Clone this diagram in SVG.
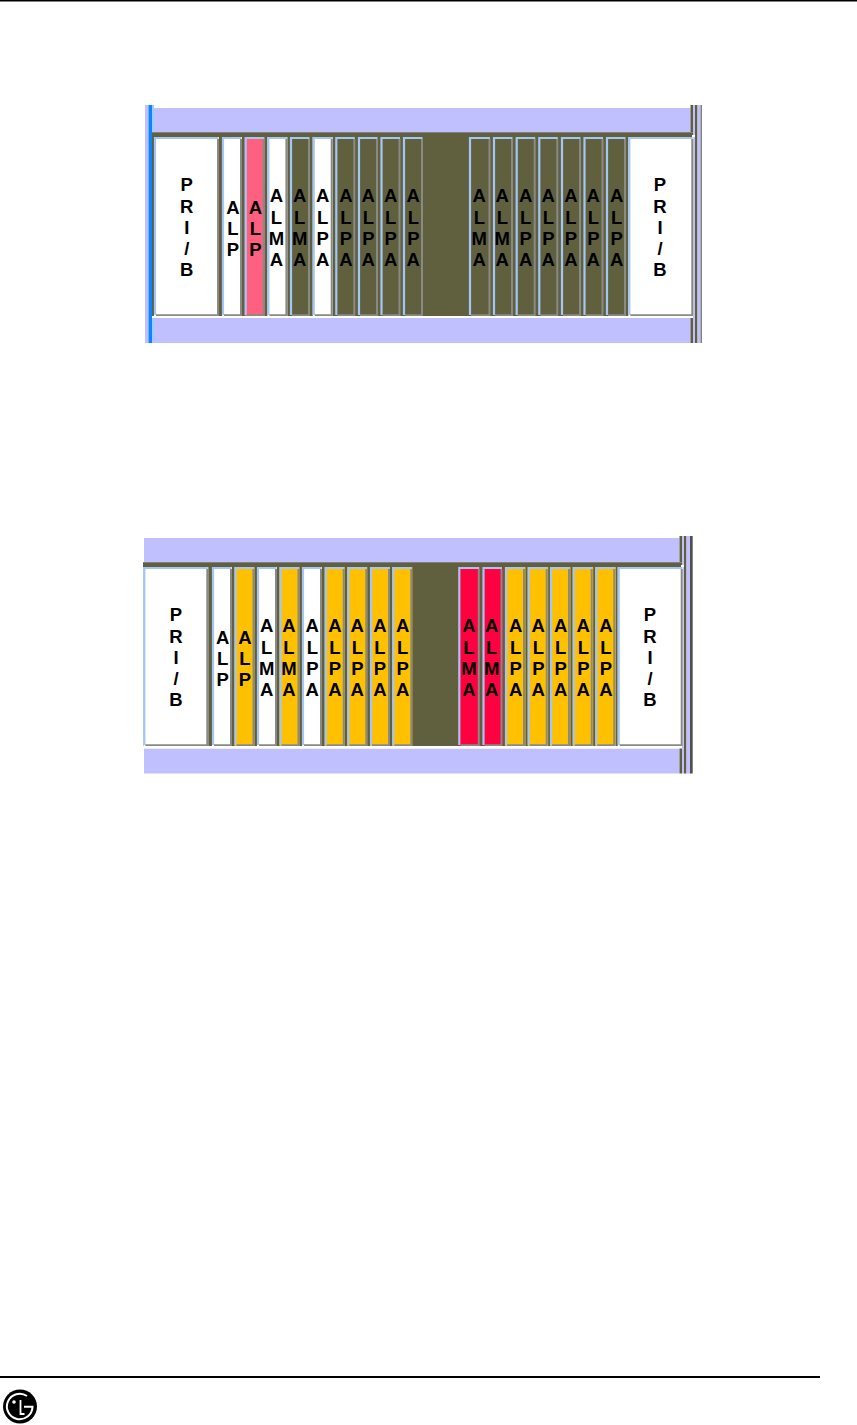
<svg xmlns="http://www.w3.org/2000/svg" width="857" height="1425" viewBox="0 0 857 1425">
<style>
.lav{fill:#c0c0ff}
.olive{fill:#60603f}
.w{fill:#fff}.o{fill:#60603f}.p{fill:#ff6080}.r{fill:#ff0040}.y{fill:#ffc000}
.hl{fill:none;stroke:#a4c6f6;stroke-width:2.200}
.sh{fill:none;stroke:#8a8a84;stroke-width:2}
.rg{fill:#808080}
text{font-family:"Liberation Sans",Arial,sans-serif;font-weight:bold;font-size:18.500px;fill:#000;text-anchor:middle}
</style>
<defs>
<g id="alp"><text y="213.500">A</text><text y="235">L</text><text y="256">P</text></g>
<g id="alma"><text y="202">A</text><text y="224">L</text><text y="245">M</text><text y="266">A</text></g>
<g id="alpa"><text y="202">A</text><text y="224">L</text><text y="245">P</text><text y="266">A</text></g>
<g id="pri"><text y="191">P</text><text y="212.500">R</text><text y="233.500">I</text><text y="254.500">/</text><text y="275.500">B</text></g>
<g id="m"><path class="hl" d="M1 178V1H19.500"/><path class="sh" d="M19 2V178.200H2"/></g>
<g id="mw"><path class="hl" d="M1 178V1H21"/><path class="sh" d="M20.500 2V178.200H2"/></g>
<g id="mp"><path class="hl" d="M1 178V1H64.500"/><path class="sh" d="M64 2V178.200H2"/></g>
</defs>
<g id="page-rules">
<rect x="0" y="0" width="857" height="1.500" fill="#000"/>
<rect x="0" y="1376" width="820" height="2" fill="#000"/>
</g>
<g id="rack-1">
<g id="rack-1-frame">
<rect x="145" y="105" width="3.500" height="238" fill="#c0c0ff"/>
<rect x="148.500" y="105" width="3.500" height="238" fill="#0a84ff"/>
<rect x="152" y="105" width="2" height="238" fill="#a8c8f8"/>
<rect class="lav" x="154" y="108" width="536.500" height="24"/>
<rect class="olive" x="152" y="132" width="541" height="184"/>
<rect class="rg" x="152" y="132" width="541" height="1"/>
<rect class="lav" x="154" y="318" width="536.500" height="25"/>
<rect class="olive" x="690.500" y="105" width="2.500" height="27"/>
<rect class="olive" x="690.500" y="318" width="2.500" height="25"/>
<rect class="lav" x="693" y="105" width="2" height="238"/>
<rect class="olive" x="695" y="105" width="2.500" height="238"/>
<rect class="lav" x="697.500" y="105" width="3" height="238"/>
<rect class="rg" x="700.500" y="105" width="1.500" height="238"/>
</g>
<g id="r1-pri-l"><rect class="w" x="154" y="137" width="65" height="179"/><use href="#mp" x="154" y="137"/><use href="#pri" x="186.700"/></g>
<g id="r1-alp-1"><rect class="w" x="222" y="137" width="20" height="179"/><use href="#m" x="222" y="137"/><use href="#alp" x="233"/></g>
<g id="r1-alp-2"><rect class="p" x="244.700" y="137" width="20" height="179"/><use href="#m" x="244.700" y="137"/><use href="#alp" x="255.500"/></g>
<g id="r1-alma-1"><rect class="w" x="267.400" y="137" width="20" height="179"/><use href="#m" x="267.400" y="137"/><use href="#alma" x="276.500"/></g>
<g id="r1-alma-2"><rect class="o" x="290" y="137" width="20" height="179"/><use href="#m" x="290" y="137"/><use href="#alma" x="299.700"/></g>
<g id="r1-alpa-1"><rect class="w" x="312.700" y="137" width="20" height="179"/><use href="#m" x="312.700" y="137"/><use href="#alpa" x="322.700"/></g>
<g id="r1-alpa-2"><rect class="o" x="335.300" y="137" width="20" height="179"/><use href="#m" x="335.300" y="137"/><use href="#alpa" x="346"/></g>
<g id="r1-alpa-3"><rect class="o" x="358" y="137" width="20" height="179"/><use href="#m" x="358" y="137"/><use href="#alpa" x="368.300"/></g>
<g id="r1-alpa-4"><rect class="o" x="380.500" y="137" width="20" height="179"/><use href="#m" x="380.500" y="137"/><use href="#alpa" x="390.700"/></g>
<g id="r1-alpa-5"><rect class="o" x="403" y="137" width="20" height="179"/><use href="#m" x="403" y="137"/><use href="#alpa" x="413.300"/></g>
<g id="r1-alma-3"><rect class="o" x="469" y="137" width="21.500" height="179"/><use href="#mw" x="469" y="137"/><use href="#alma" x="479.300"/></g>
<g id="r1-alma-4"><rect class="o" x="493" y="137" width="20.500" height="179"/><use href="#m" x="493" y="137"/><use href="#alma" x="502.300"/></g>
<g id="r1-alpa-6"><rect class="o" x="515.700" y="137" width="20.500" height="179"/><use href="#m" x="515.700" y="137"/><use href="#alpa" x="525.700"/></g>
<g id="r1-alpa-7"><rect class="o" x="538.300" y="137" width="20.500" height="179"/><use href="#m" x="538.300" y="137"/><use href="#alpa" x="548.300"/></g>
<g id="r1-alpa-8"><rect class="o" x="561" y="137" width="20.500" height="179"/><use href="#m" x="561" y="137"/><use href="#alpa" x="571"/></g>
<g id="r1-alpa-9"><rect class="o" x="583.500" y="137" width="20.500" height="179"/><use href="#m" x="583.500" y="137"/><use href="#alpa" x="593.300"/></g>
<g id="r1-alpa-10"><rect class="o" x="606" y="137" width="20.500" height="179"/><use href="#m" x="606" y="137"/><use href="#alpa" x="616.700"/></g>
<g id="r1-pri-r"><rect class="w" x="628.300" y="137" width="65" height="179"/><use href="#mp" x="628.300" y="137"/><use href="#pri" x="660"/></g>
<rect class="w" x="152" y="316" width="541" height="2"/>
<rect class="w" x="692" y="135" width="3" height="2"/>
</g>
<g id="rack-2" transform="translate(0 430)">
<g id="rack-2-frame">
<rect class="lav" x="144" y="108" width="535.500" height="24"/>
<rect class="olive" x="143" y="132" width="539" height="184"/>
<rect class="rg" x="143" y="132" width="539" height="1"/>
<rect class="lav" x="144" y="318.500" width="535.500" height="25"/>
<rect class="olive" x="679.500" y="106" width="2.500" height="26"/>
<rect class="olive" x="679.500" y="318" width="2.500" height="25.500"/>
<rect class="lav" x="682" y="106" width="2" height="237.500"/>
<rect class="olive" x="684" y="106" width="2.500" height="237.500"/>
<rect class="lav" x="686.500" y="106" width="3.500" height="237.500"/>
<rect x="690" y="106" width="2.700" height="237.500" fill="#505050"/>
</g>
<g id="r2-pri-l"><rect class="w" x="143.300" y="137" width="65" height="179"/><use href="#mp" x="143.300" y="137"/><use href="#pri" x="176"/></g>
<g id="r2-alp-1"><rect class="w" x="212" y="137" width="20" height="179"/><use href="#m" x="212" y="137"/><use href="#alp" x="222.700"/></g>
<g id="r2-alp-2"><rect class="y" x="234.500" y="137" width="20" height="179"/><use href="#m" x="234.500" y="137"/><use href="#alp" x="245"/></g>
<g id="r2-alma-1"><rect class="w" x="257" y="137" width="20" height="179"/><use href="#m" x="257" y="137"/><use href="#alma" x="266.700"/></g>
<g id="r2-alma-2"><rect class="y" x="279.500" y="137" width="20" height="179"/><use href="#m" x="279.500" y="137"/><use href="#alma" x="289"/></g>
<g id="r2-alpa-1"><rect class="w" x="302" y="137" width="20" height="179"/><use href="#m" x="302" y="137"/><use href="#alpa" x="312.300"/></g>
<g id="r2-alpa-2"><rect class="y" x="324.700" y="137" width="20" height="179"/><use href="#m" x="324.700" y="137"/><use href="#alpa" x="335"/></g>
<g id="r2-alpa-3"><rect class="y" x="347.300" y="137" width="20" height="179"/><use href="#m" x="347.300" y="137"/><use href="#alpa" x="357.300"/></g>
<g id="r2-alpa-4"><rect class="y" x="370" y="137" width="20" height="179"/><use href="#m" x="370" y="137"/><use href="#alpa" x="380"/></g>
<g id="r2-alpa-5"><rect class="y" x="392.300" y="137" width="20" height="179"/><use href="#m" x="392.300" y="137"/><use href="#alpa" x="402.700"/></g>
<g id="r2-alma-3"><rect class="r" x="458.300" y="137" width="21.500" height="179"/><use href="#mw" x="458.300" y="137"/><use href="#alma" x="469"/></g>
<g id="r2-alma-4"><rect class="r" x="482.500" y="137" width="20.500" height="179"/><use href="#m" x="482.500" y="137"/><use href="#alma" x="491.700"/></g>
<g id="r2-alpa-6"><rect class="y" x="505" y="137" width="20.500" height="179"/><use href="#m" x="505" y="137"/><use href="#alpa" x="515.700"/></g>
<g id="r2-alpa-7"><rect class="y" x="527.700" y="137" width="20.500" height="179"/><use href="#m" x="527.700" y="137"/><use href="#alpa" x="538.300"/></g>
<g id="r2-alpa-8"><rect class="y" x="550" y="137" width="20.500" height="179"/><use href="#m" x="550" y="137"/><use href="#alpa" x="560.700"/></g>
<g id="r2-alpa-9"><rect class="y" x="572.700" y="137" width="20.500" height="179"/><use href="#m" x="572.700" y="137"/><use href="#alpa" x="583.300"/></g>
<g id="r2-alpa-10"><rect class="y" x="595.300" y="137" width="20.500" height="179"/><use href="#m" x="595.300" y="137"/><use href="#alpa" x="606"/></g>
<g id="r2-pri-r"><rect class="w" x="617.700" y="137" width="65" height="179"/><use href="#mp" x="617.700" y="137"/><use href="#pri" x="650"/></g>
<rect class="w" x="143" y="316" width="539" height="2.500"/>
<rect class="w" x="681" y="135" width="3" height="2"/>
</g>
<g id="logo">
<circle cx="20" cy="1406.500" r="17" fill="#000"/>
<circle cx="14" cy="1402" r="1.800" fill="#fff"/>
<path d="M20.500 1400V1414H24.500" fill="none" stroke="#fff" stroke-width="1.800"/>
<path d="M24 1406.800H32.500A12.800 12.800 0 1 1 27 1396" fill="none" stroke="#fff" stroke-width="2"/>
</g>
</svg>
